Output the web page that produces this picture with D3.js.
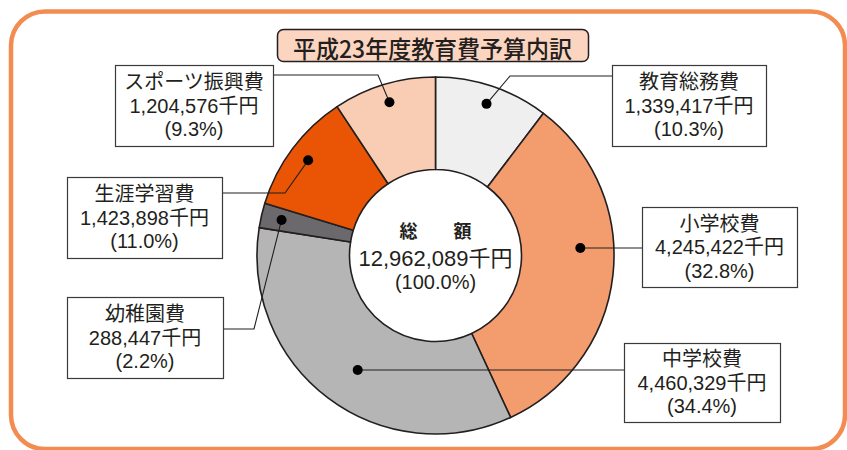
<!DOCTYPE html>
<html><head><meta charset="utf-8">
<script src="https://cdn.jsdelivr.net/npm/d3@7"></script>
<style>
html,body{margin:0;padding:0;background:#fff;}
svg{display:block;}
text{font-family:"Liberation Sans","Noto Sans CJK JP",sans-serif;fill:#231f20;}
</style></head>
<body>
<svg id="chart" width="847" height="450"></svg>
<script>
const title = "平成23年度教育費予算内訳";
const categories = ["教育総務費","小学校費","中学校費","幼稚園費","生涯学習費","スポーツ振興費"];
const values = [1339417, 4245422, 4460329, 288447, 1423898, 1204576];
const colors = ["#efefef","#f39c6e","#b4b5b4","#6b696b","#e95504","#f9cdb3"];
const totalLabel = ["総　　額", "千円", "(100.0%)"];

// layout (not data)
const W = 847, H = 450;
const cx = 435.5, cy = 255.5, rOuter = 178.5, rInner = 86;
const layout = {
  "教育総務費":   {box:[612,65,154,81], side:"left",  ly:76,  elbow:510, dotR:160, dotShift:0},
  "小学校費":     {box:[642,207,155,80], side:"left",  ly:248, elbow:null, dotR:145, dotShift:-3.3},
  "中学校費":     {box:[624,343,156,79], side:"left",  ly:370, elbow:null, dotR:139, dotShift:-3},
  "幼稚園費":     {box:[67,297,156,81],  side:"right", ly:329, elbow:254, dotR:158, dotShift:0},
  "生涯学習費":   {box:[67,177,155,81],  side:"right", ly:193, elbow:285, dotR:159, dotShift:0},
  "スポーツ振興費":{box:[115,65,158,81], side:"right", ly:75,  elbow:378, dotR:160, dotShift:0}
};

const svg = d3.select("#chart");
const total = d3.sum(values);
const data = categories.map((c,i)=>({name:c, value:values[i], color:colors[i]}));

// outer frame
svg.append("rect").attr("x",11).attr("y",11.5).attr("width",834).attr("height",437.5)
  .attr("rx",34).attr("ry",34).attr("fill","none").attr("stroke","#f28c51").attr("stroke-width",4.5);

// title
svg.append("rect").attr("x",277.5).attr("y",29.5).attr("width",311).attr("height",32)
  .attr("rx",6).attr("fill","#fcd5c0").attr("stroke","#231f20").attr("stroke-width",1.5);
svg.append("text").attr("x",293).attr("y",47).attr("dominant-baseline","central")
  .attr("textLength",279).attr("lengthAdjust","spacingAndGlyphs")
  .style("font-family","'Noto Sans CJK JP'").style("font-size","24px").style("font-weight","500")
  .text(title);

const pie = d3.pie().value(d=>d.value).sort(null);
const arcs = pie(data);
const arc = d3.arc().innerRadius(rInner).outerRadius(rOuter);
const g = svg.append("g").attr("transform",`translate(${cx},${cy})`);
g.selectAll("path.slice").data(arcs).join("path").attr("class","slice")
  .attr("d",arc).attr("fill",d=>d.data.color).attr("stroke","#231f20").attr("stroke-width",1.6)
  .attr("stroke-linejoin","round");

// center text
const fmt = d3.format(",");
g.append("text").attr("x",0).attr("y",-26).attr("text-anchor","middle").attr("dominant-baseline","central")
  .style("font-family","'Noto Sans CJK JP'").style("font-size","18px").style("font-weight","700")
  .text(totalLabel[0]);
g.append("text").attr("x",0).attr("y",3).attr("text-anchor","middle").attr("dominant-baseline","central")
  .style("font-size","22px").text(fmt(total)+totalLabel[1]);
g.append("text").attr("x",0).attr("y",26.5).attr("text-anchor","middle").attr("dominant-baseline","central")
  .style("font-size","20px").text(totalLabel[2]);

// labels
const pct = d3.format(".1f");
arcs.forEach(a=>{
  const L = layout[a.data.name];
  const mid = (a.startAngle+a.endAngle)/2 + L.dotShift*Math.PI/180;
  const dx = cx + L.dotR*Math.sin(mid), dy = cy - L.dotR*Math.cos(mid);
  const [bx,by,bw,bh] = L.box;
  const ex = L.side==="left" ? bx : bx+bw;
  const pts = [[ex,L.ly]];
  if (L.elbow!==null) { pts.push([L.elbow,L.ly]); pts.push([dx,dy]); }
  else pts.push([dx,L.ly]);
  svg.append("path").attr("d",d3.line()(pts)).attr("fill","none").attr("stroke","#231f20").attr("stroke-width",1.1);
  svg.append("circle").attr("cx",pts[pts.length-1][0]).attr("cy",pts[pts.length-1][1]).attr("r",5).attr("fill","#000");
  svg.append("rect").attr("x",bx+0.5).attr("y",by+0.5).attr("width",bw).attr("height",bh)
    .attr("fill","#fff").attr("stroke","#3a3a3a").attr("stroke-width",1.2);
  const lines = [a.data.name, fmt(a.data.value)+"千円", "("+pct(a.data.value/total*100)+"%)"];
  const ccx = bx+bw/2, ccy = by+bh/2;
  lines.forEach((t,i)=>{
    svg.append("text").attr("x",ccx).attr("y",ccy+(i-1)*23.5).attr("text-anchor","middle")
      .attr("dominant-baseline","central").style("font-size","20px").text(t);
  });
});
</script>
</body></html>
